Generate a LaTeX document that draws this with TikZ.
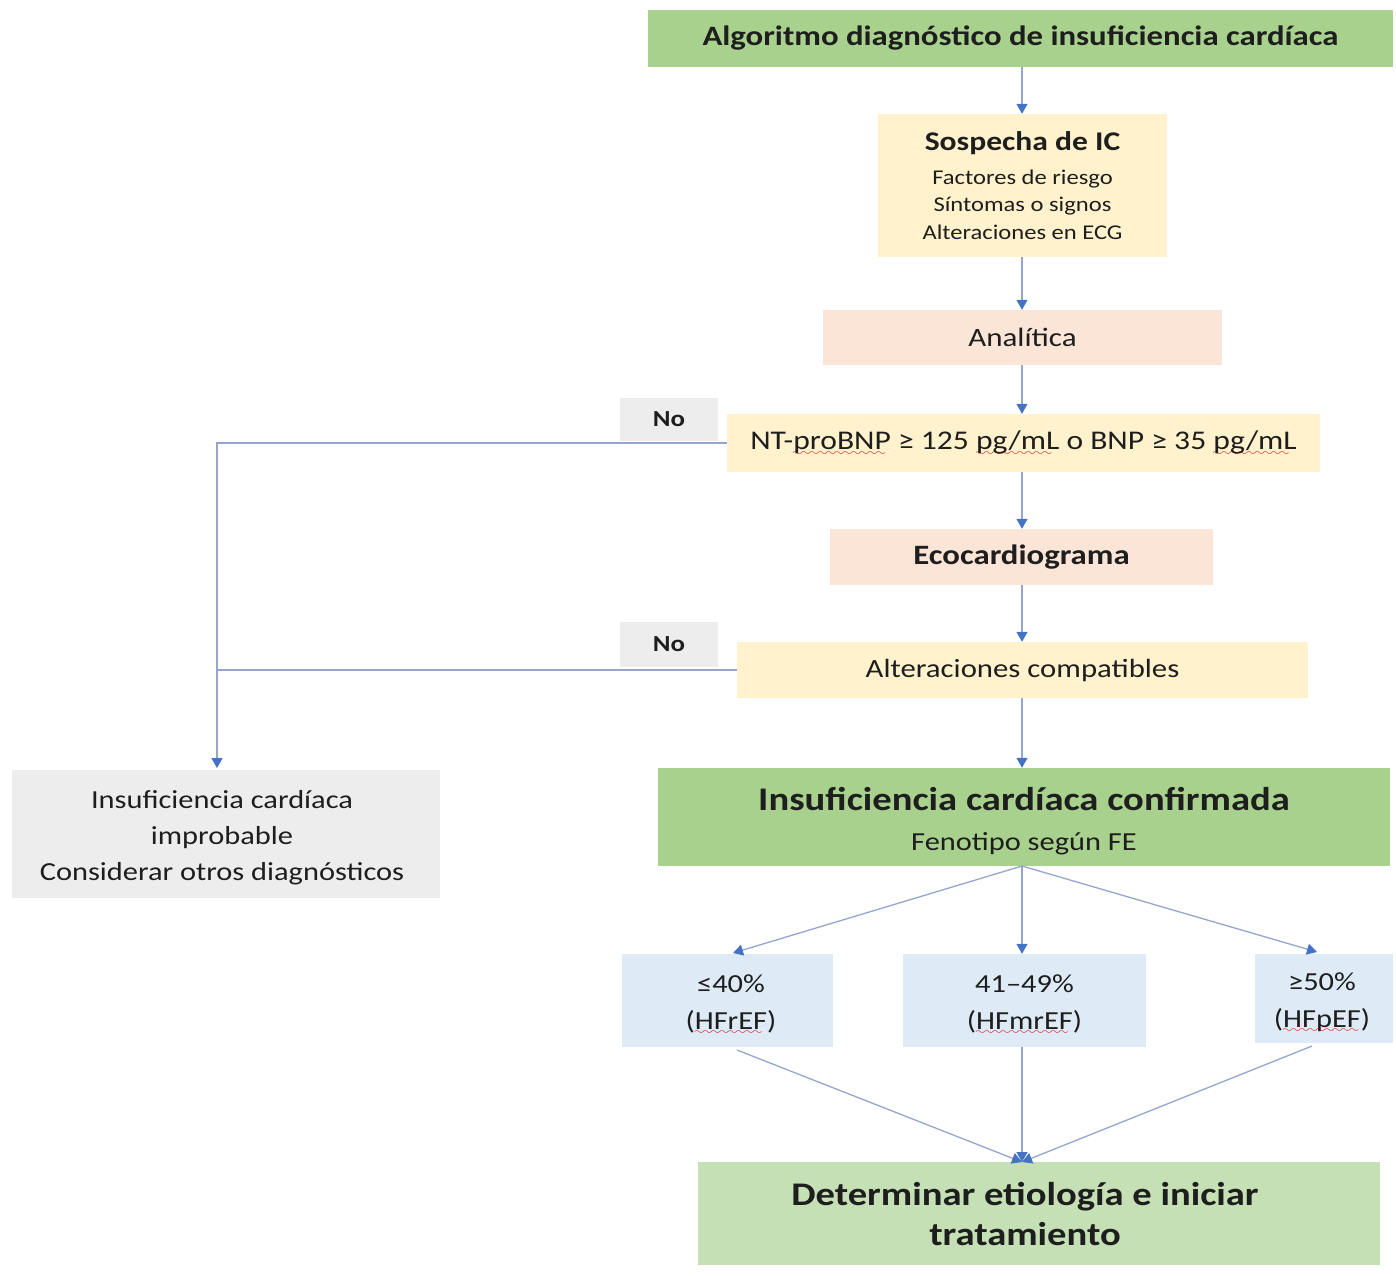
\documentclass[tikz,border=0pt]{standalone}
\usepackage{fontspec}
\setmainfont{Carlito}[FakeStretch=1.17]
\usetikzlibrary{arrows.meta}
\font\sixly=lasy6 at 10pt
\newcommand\redwave[1]{\setbox0\hbox{#1}\rlap{\raise-5.5pt\hbox to\wd0{\color{red!85!black}\leaders\hbox{\sixly\char58}\hfill}}\box0\relax}
\definecolor{gA}{RGB}{169,209,142}
\definecolor{gB}{RGB}{197,224,180}
\definecolor{yel}{RGB}{255,242,204}
\definecolor{sal}{RGB}{251,229,214}
\definecolor{blu}{RGB}{222,235,247}
\definecolor{gry}{RGB}{237,237,237}
\definecolor{lin}{RGB}{150,165,205}
\definecolor{tip}{RGB}{68,114,196}
\definecolor{txt}{RGB}{30,30,30}
\tikzset{
  box/.style={draw=none, inner sep=0pt, align=center, text=txt},
  lbl/.style={inner sep=0pt, align=center, text=txt},
  arr/.style={draw=lin, line width=1.3pt, -{Triangle[width=11pt,length=10pt,color=tip]}},
  ln/.style={draw=lin, line width=1.3pt},
}
\begin{document}
\begin{tikzpicture}[x=1pt,y=-1pt]
\useasboundingbox (0,0) rectangle (1396,1275);
\node[box, fill=gA, minimum width=745pt, minimum height=57pt, font=\fontsize{28}{32}\selectfont\bfseries] (title) at (1020.5,38.5)
  {Algoritmo diagnóstico de insuficiencia cardíaca};
\node[box, fill=yel, minimum width=289pt, minimum height=143pt, font=\fontsize{21}{27.5}\selectfont] (sosp) at (1022.5,185.5)
  {{\fontsize{27}{27}\selectfont\bfseries Sospecha de IC}\\[6pt]
   Factores de riesgo\\ Síntomas o signos\\ Alteraciones en ECG};
\node[box, fill=sal, minimum width=399pt, minimum height=55pt, font=\fontsize{26.5}{30}\selectfont] (anal) at (1022.5,337.5)
  {Analítica};
\node[box, fill=yel, minimum width=593pt, minimum height=58pt, font=\fontsize{27}{30}\selectfont] (nt) at (1023.5,443)
  {NT-\redwave{proBNP} ≥ 125 \redwave{pg/mL} o BNP ≥ 35 \redwave{pg/mL}};
\node[box, fill=gry, minimum width=98pt, minimum height=43pt, font=\fontsize{23}{26}\selectfont\bfseries] (no1) at (669,419.5)
  {No};
\node[box, fill=sal, minimum width=383pt, minimum height=56pt, font=\fontsize{28}{30}\selectfont\bfseries] (eco) at (1021.5,557)
  {Ecocardiograma};
\node[box, fill=yel, minimum width=571pt, minimum height=56pt, font=\fontsize{26.3}{30}\selectfont] (alt) at (1022.5,670)
  {Alteraciones compatibles};
\node[box, fill=gry, minimum width=98pt, minimum height=45pt, font=\fontsize{23}{26}\selectfont\bfseries] (no2) at (669,644.5)
  {No};
% boxes with separately placed text
\node[box, fill=gry, minimum width=428pt, minimum height=128pt] (impr) at (226,834) {};
\node[lbl, font=\fontsize{26}{36}\selectfont] (impr-t) at (222,838)
  {Insuficiencia cardíaca\\ improbable\\ Considerar otros diagnósticos};
\node[box, fill=gA, minimum width=732pt, minimum height=98pt] (conf) at (1024,817) {};
\node[lbl, font=\fontsize{26}{40}\selectfont] (conf-t) at (1024,821)
  {{\fontsize{33}{40}\selectfont\bfseries Insuficiencia cardíaca confirmada}\\
   Fenotipo según FE};
\node[box, fill=blu, minimum width=211pt, minimum height=93pt] (p40) at (727.5,1000.5) {};
\node[lbl, font=\fontsize{26}{37}\selectfont] (p40-t) at (731,1004.5)
  {≤40\%\\ (\redwave{HFrEF})};
\node[box, fill=blu, minimum width=243pt, minimum height=93pt] (p41) at (1024.5,1000.5) {};
\node[lbl, font=\fontsize{26}{37}\selectfont] (p41-t) at (1024.5,1004.5)
  {41–49\%\\ (\redwave{HFmrEF})};
\node[box, fill=blu, minimum width=138pt, minimum height=89pt] (p50) at (1324,998.5) {};
\node[lbl, font=\fontsize{26}{37}\selectfont] (p50-t) at (1322,1002.5)
  {≥50\%\\ (\redwave{HFpEF})};
\node[box, fill=gB, minimum width=682pt, minimum height=103pt] (det) at (1039,1213.5) {};
\node[lbl, font=\fontsize{33}{40}\selectfont\bfseries] (det-t) at (1025,1213.5)
  {Determinar etiología e iniciar\\ tratamiento};
% coordinates
\coordinate (impin) at (217,768);
\coordinate (cbot) at (1022,866);
\coordinate (t40) at (733,953);
\coordinate (t50) at (1317,952);
\coordinate (b40) at (737,1050);
\coordinate (b50) at (1312,1046);
\coordinate (dtop) at (1022,1162);
% connectors
\draw[arr] (title.south -| cbot) -- (sosp.north -| cbot);
\draw[arr] (sosp.south -| cbot) -- (anal.north -| cbot);
\draw[arr] (anal.south -| cbot) -- (nt.north -| cbot);
\draw[arr] (nt.south -| cbot) -- (eco.north -| cbot);
\draw[arr] (eco.south -| cbot) -- (alt.north -| cbot);
\draw[arr] (alt.south -| cbot) -- (conf.north -| cbot);
\draw[arr] (nt.west) -| (impin);
\draw[ln] (alt.west) -- (alt.west -| impin);
\draw[arr] (cbot) -- (t40);
\draw[arr] (cbot) -- (p41.north -| cbot);
\draw[arr] (cbot) -- (t50);
\draw[arr] (b40) -- (dtop);
\draw[arr] (p41.south -| cbot) -- (dtop);
\draw[arr] (b50) -- (dtop);
\end{tikzpicture}
\end{document}
